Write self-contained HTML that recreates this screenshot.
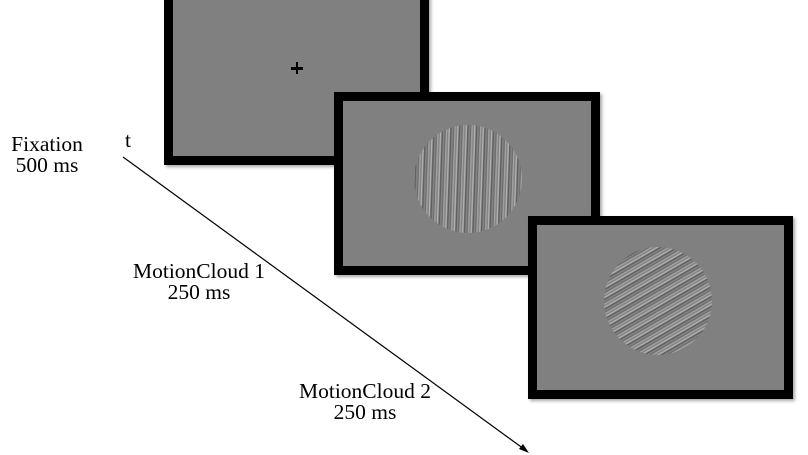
<!DOCTYPE html>
<html><head><style>
html,body{margin:0;padding:0;background:#fff;}
body{width:808px;height:455px;position:relative;overflow:hidden;font-family:"Liberation Serif",serif;}
.f{position:absolute;background:#808080;border:9px solid #000;box-sizing:border-box;box-shadow:2px 2px 3px rgba(0,0,0,0.35);}
.c{position:absolute;border-radius:50%;}
.t{position:absolute;font-size:21.5px;color:#000;text-align:center;line-height:21px;white-space:nowrap;}
</style></head><body>
<div class="f" style="left:164px;top:-12px;width:265px;height:177px;">
  <div style="position:absolute;left:118px;top:70px;width:12px;height:2.5px;background:#000;"></div>
  <div style="position:absolute;left:122.75px;top:65.25px;width:2.5px;height:12px;background:#000;"></div>
</div>
<div class="f" style="left:334px;top:92px;width:266px;height:183px;">
  <div class="c" style="left:71px;top:24px;width:108px;height:108px;background:repeating-linear-gradient(92deg,#777 0px,#bbb 1.5px,#555 3px,#8a8a8a 4.5px,#666 6px,#aaa 7px,#808080 8.5px);"></div>
</div>
<div class="f" style="left:528px;top:216px;width:265px;height:183px;">
  <div class="c" style="left:67px;top:22px;width:108px;height:108px;background:repeating-linear-gradient(150deg,#777 0px,#bbb 1.5px,#555 3px,#8a8a8a 4.5px,#666 6px,#aaa 7px,#808080 8.5px);"></div>
</div>
<svg style="position:absolute;left:0;top:0" width="808" height="455">
  <line x1="123" y1="157" x2="524" y2="449" stroke="#000" stroke-width="1.2"/>
  <polygon points="529,453 519,449 523,444" fill="#000"/>
</svg>
<div class="t" style="left:4px;top:134px;width:86px;">Fixation<br>500 ms</div>
<div class="t" style="left:125px;top:130px;">t</div>
<div class="t" style="left:119px;top:261px;width:160px;">MotionCloud 1<br>250 ms</div>
<div class="t" style="left:285px;top:381px;width:160px;">MotionCloud 2<br>250 ms</div>
</body></html>
